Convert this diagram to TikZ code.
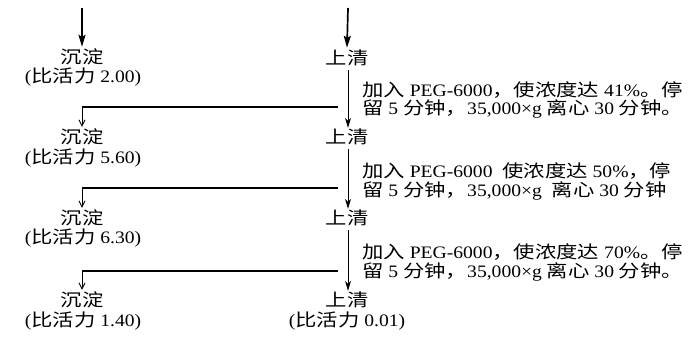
\documentclass[tikz,border=0pt]{standalone}
\usepackage{fontspec}
\setmainfont[FakeStretch=1.12]{Liberation Serif}
\newfontfamily\cjk[FakeStretch=1.22]{Noto Sans CJK SC}
\usetikzlibrary{arrows.meta}
\newcommand\zh[1]{{\cjk #1}}
\begin{document}
\begin{tikzpicture}[x=1pt,y=-1pt,
  txt/.style={inner sep=0pt,text height=13pt,text depth=3pt,font=\fontsize{17.5}{18}\selectfont},
  lbl/.style={txt},
  note/.style={txt,anchor=west},
  thick arrow/.style={line width=1.7pt,-{Stealth[length=12pt,width=7pt,inset=2pt]}},
  flow/.style={line width=0.9pt,-{Stealth[length=10pt,width=6pt,inset=3pt]}},
  split/.style={line width=1.4pt},
  splitarrow/.style={line width=0.9pt,-{Straight Barb[length=6pt,width=6pt]}}]
\useasboundingbox (0,0) rectangle (692,338);
% top free ends
\coordinate (t0) at (82,8);
\coordinate (t1) at (348,8);
% left column
\node[lbl] (L1) at (82,58) {\zh{沉淀}};
\node[lbl] (L1v) at (83,77) {(\zh{比活力} 2.00)};
\node[lbl] (L2) at (82,138) {\zh{沉淀}};
\node[lbl] (L2v) at (83,158) {(\zh{比活力} 5.60)};
\node[lbl] (L3) at (82,219) {\zh{沉淀}};
\node[lbl] (L3v) at (83,238) {(\zh{比活力} 6.30)};
\node[lbl] (L4) at (82,301) {\zh{沉淀}};
\node[lbl] (L4v) at (83,321) {(\zh{比活力} 1.40)};
% right column
\node[lbl] (R1) at (347,59) {\zh{上清}};
\node[lbl] (R2) at (347,138) {\zh{上清}};
\node[lbl] (R3) at (347,219) {\zh{上清}};
\node[lbl] (R4) at (347,301) {\zh{上清}};
\node[lbl] (R4v) at (347,321) {(\zh{比活力} 0.01)};
% notes
\node[note] (N1a) at (362,91) {\zh{加入} PEG-6000\zh{，使浓度达} 41\%\zh{。停}};
\node[note] (N1b) at (362,109) {\zh{留} 5 \zh{分钟，}35,000×g \zh{离心} 30 \zh{分钟。}};
\node[note] (N2a) at (362,172) {\zh{加入} PEG-6000\ \ \zh{使浓度达} 50\%\zh{，停}};
\node[note] (N2b) at (362,191) {\zh{留} 5 \zh{分钟，}35,000×g \ \zh{离心} 30 \zh{分钟}};
\node[note] (N3a) at (362,253) {\zh{加入} PEG-6000\zh{，使浓度达} 70\%\zh{。停}};
\node[note] (N3b) at (362,272) {\zh{留} 5 \zh{分钟，}35,000×g \zh{离心} 30 \zh{分钟。}};
% branch points on horizontal lines
\coordinate (h1) at (338,107);
\coordinate (h2) at (338,188);
\coordinate (h3) at (338,271);
\coordinate (c1) at (82,107);
\coordinate (c2) at (82,188);
\coordinate (c3) at (82,271);
% arrows
\draw[thick arrow] (t0) -- ([yshift=3pt]L1.north);
\draw[thick arrow] (t1) -- ([yshift=3pt]R1.north);
\draw[flow] ([xshift=1pt,yshift=-3pt]R1.south) -- ([xshift=1pt,yshift=2pt]R2.north);
\draw[flow] ([xshift=1pt,yshift=-3pt]R2.south) -- ([xshift=1pt,yshift=2pt]R3.north);
\draw[flow] ([xshift=1pt,yshift=-3pt]R3.south) -- ([xshift=1pt,yshift=2pt]R4.north);
\draw[split] (h1) -- (c1);
\draw[split] (h2) -- (c2);
\draw[split] (h3) -- (c3);
\draw[splitarrow] (c1) -- ([yshift=3pt]L2.north);
\draw[splitarrow] (c2) -- ([yshift=3pt]L3.north);
\draw[splitarrow] (c3) -- ([yshift=3pt]L4.north);
\end{tikzpicture}
\end{document}
